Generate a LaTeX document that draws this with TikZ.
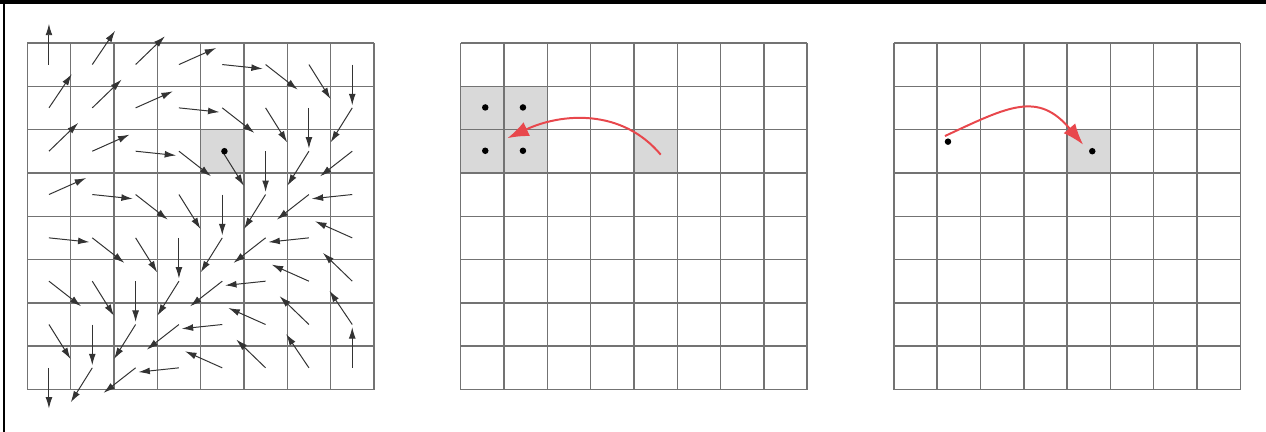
\documentclass[tikz,border=0pt]{standalone}
\usepackage{xcolor}
\usetikzlibrary{arrows.meta}
\definecolor{cRed}{HTML}{E8474C}
\definecolor{cGray}{HTML}{D9D9D9}

\begin{document}
\begin{tikzpicture}[
  gridline/.style={draw=black!55, line width=0.9pt},
  cell/.style={fill=cGray},
  field/.style={-{Latex[length=7.5pt,width=4.5pt]}, draw=black!80, line width=0.65pt},
  dot/.style={fill=black},
  jump/.style={-{Latex[length=14pt,width=10pt]}, draw=cRed, line width=1.3pt},
]

\useasboundingbox (-0.63,-0.98) rectangle (28.59,8.99);
\fill (-0.63,8.9) rectangle (28.59,8.99);
\fill (-0.56,-0.98) rectangle (-0.51,8.99);

% left grid: flow field
\fill[cell] (4,5) rectangle (5,6);
\draw[gridline] (0,0) grid (8,8);
\foreach \r in {0,...,7}
  \foreach \c in {0,...,7} {
    \pgfmathsetmacro{\ang}{{90,56,44,24,-6,-38,-58,-90,-122,-142,-174,156,136,124,90}[\r+\c]}
    \draw[field] (\c+0.5,7.5-\r) -- ++(\ang:0.94);
  }
\fill[dot] (4.55,5.5) circle (0.075);

% middle grid
\fill[cell] (10,5) rectangle (12,7);
\fill[cell] (14,5) rectangle (15,6);
\draw[gridline] (10,0) grid (18,8);
\foreach \x/\y in {10.57/6.51, 11.44/6.51, 10.57/5.51, 11.44/5.51}
  \fill[dot] (\x,\y) circle (0.075);
\coordinate (mfrom) at (14.62,5.42);
\coordinate (mto) at (11.08,5.8);
\draw[jump] (mfrom) to[out=130,in=25] (mto);

% right grid
\fill[cell] (24,5) rectangle (25,6);
\draw[gridline] (20,0) grid (28,8);
\fill[dot] (21.25,5.72) circle (0.075);
\fill[dot] (24.58,5.5) circle (0.075);
\coordinate (rfrom) at (21.18,5.85);
\coordinate (rto) at (24.37,5.65);
\draw[jump] (rfrom) to[out=25,in=130,looseness=1.3] (rto);

\end{tikzpicture}
\end{document}
